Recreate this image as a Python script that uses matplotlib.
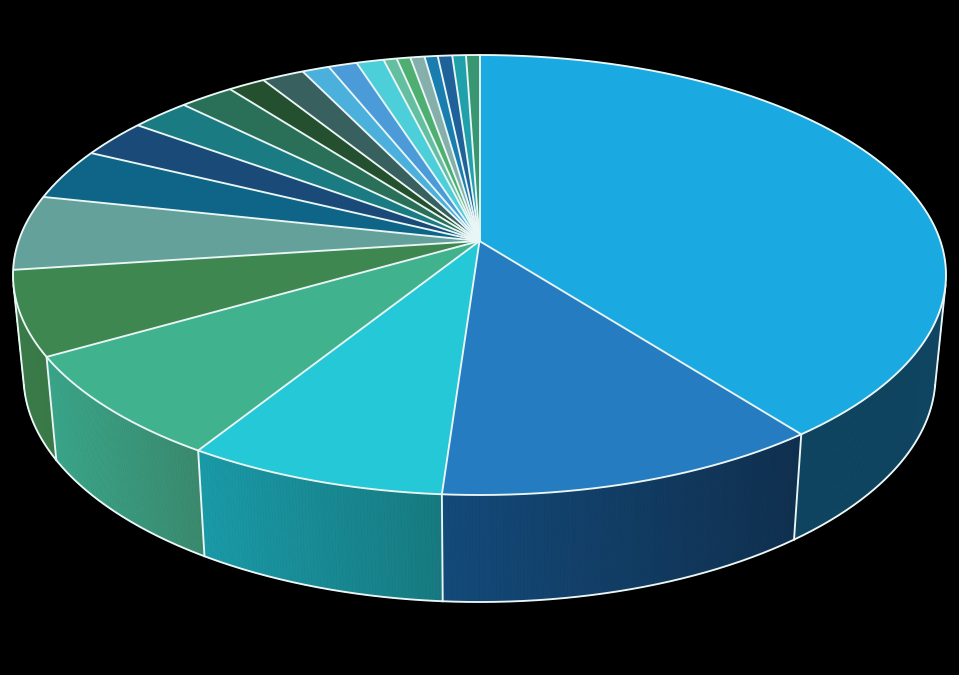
import numpy as np
import matplotlib
matplotlib.use("Agg")
import matplotlib.pyplot as plt
from matplotlib.collections import PolyCollection
from matplotlib.colors import to_rgb

# Share of each slice, percent, clockwise from 12 o'clock
shares = [39.5, 11.6, 7.8, 7.8, 6.2, 5.5, 3.8, 2.8, 2.4, 2.2, 1.5, 1.7,
          1.1, 1.15, 1.1, 0.53, 0.55, 0.57, 0.53, 0.58, 0.55, 0.54]
top_colors = ["#1BA9E1", "#257CC0", "#25C8D6", "#40B28E", "#3F8750", "#65A19B",
              "#0F6587", "#1A4B78", "#1A7B82", "#2A7058", "#24502F", "#38605F",
              "#4BB0DC", "#4A9BD8", "#4CCFD8", "#63BFA0", "#4FAF73", "#85AFAA",
              "#1A7DB0", "#1F6199", "#1FA0AA", "#389673"]
wall_left = ["#0F4560", "#134A7A", "#1A9AA8", "#3AA68A", "#3A7A48"]
wall_right = ["#0F4560", "#10304F", "#177A80", "#3A8A6E", "#3A7A48"]

W, H = 959, 675
K = 0.1545  # perspective strength


def ring(t, cx, cy, rx, ry):
    """Perspective projection of a circle; t clockwise from the back, radians."""
    x, y = np.sin(t), np.cos(t)
    d = 1 + K * y
    shrink = 1 - K * K
    apex_y = cy - K * ry
    return cx + rx * np.sqrt(shrink) * x / d, apex_y - ry * shrink * y / d


TOP = (479.5, 275, 466.5, 220)
LOW = (479.5, 376, 456, 226)
APEX = (479.5, TOP[1] - K * TOP[3])
WHITE = "#EAF6F6"
LW = 1.35

fig = plt.figure(figsize=(W / 100, H / 100), dpi=100, facecolor="black")
ax = fig.add_axes([0, 0, 1, 1])
ax.set_xlim(0, W)
ax.set_ylim(H, 0)
ax.axis("off")

edges = np.radians(np.concatenate([[0], np.cumsum(shares) * 360 / np.sum(shares)]))

# Walls (front slices)
for i in range(len(wall_left)):
    ts = np.linspace(edges[i], edges[i + 1], max(int((edges[i + 1] - edges[i]) * 160), 2))
    tx, ty = ring(ts, *TOP)
    lx, ly = ring(ts, *LOW)
    quads, cols = [], []
    c_l, c_r = np.array(to_rgb(wall_left[i])), np.array(to_rgb(wall_right[i]))
    x_front_a, x_front_b = ring(edges[i + 1], *LOW)[0], ring(edges[i], *LOW)[0]
    for j in range(len(ts) - 1):
        quads.append([(tx[j], ty[j]), (tx[j + 1], ty[j + 1]), (lx[j + 1], ly[j + 1]), (lx[j], ly[j])])
        f = np.clip((lx[j] - x_front_a) / max(x_front_b - x_front_a, 1), 0, 1)
        cols.append(c_l + (c_r - c_l) * f)
    ax.add_collection(PolyCollection(quads, facecolors=cols, edgecolors=cols, linewidths=0.6, zorder=1))

# Lower rim and silhouette
tt = np.linspace(0, 2 * np.pi, 1200)
lx, ly = ring(tt, *LOW)
ux, uy = ring(tt, *TOP)
visible = ly > LOW[1] + LOW[3] * 0.04
ax.plot(np.where(visible, lx, np.nan), ly, color=WHITE, lw=LW, zorder=2)
p = np.radians(2.65)
for sgn in (1, -1):
    ax.plot([TOP[0] + sgn * TOP[2] * np.cos(p), LOW[0] + sgn * LOW[2] * np.cos(p)],
            [TOP[1] + TOP[3] * np.sin(p), LOW[1] + LOW[3] * np.sin(p)],
            color=WHITE, lw=LW, zorder=2)

# Vertical edges between front walls
for e in edges[1:5]:
    a, b = ring(e, *TOP), ring(e, *LOW)
    ax.plot([a[0], b[0]], [a[1], b[1]], color=WHITE, lw=LW, zorder=2)

# Top face
for i, c in enumerate(top_colors):
    ts = np.linspace(edges[i], edges[i + 1], max(int((edges[i + 1] - edges[i]) * 160), 3))
    x, y = ring(ts, *TOP)
    ax.fill(np.r_[APEX[0], x], np.r_[APEX[1], y], facecolor=c, edgecolor=c, lw=0.3, zorder=3)
for e in edges[:-1]:
    a = ring(e, *TOP)
    ax.plot([APEX[0], a[0]], [APEX[1], a[1]], color=WHITE, lw=LW, zorder=4, solid_capstyle="butt")
ax.plot(ux, uy, color=WHITE, lw=LW, zorder=4)

fig.savefig("out.png", dpi=100, facecolor="black")
